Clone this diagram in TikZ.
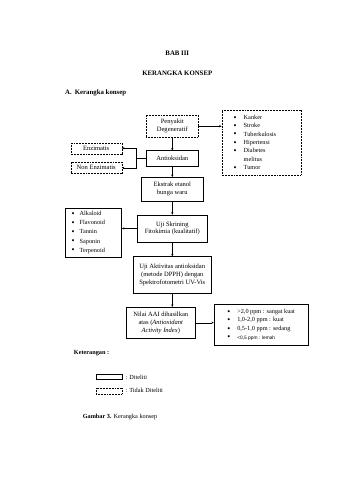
\documentclass[tikz,border=0pt]{standalone}
\usepackage{fontspec}
\setmainfont{Liberation Serif}
\setsansfont{Liberation Sans}
\usepackage{tikz}
\usetikzlibrary{arrows.meta,positioning,calc}

\newcommand{\titik}{\raisebox{-0.25ex}{\fontsize{15}{15}\selectfont\textbullet}}
\newcommand{\butir}[1]{\makebox[0.62cm][l]{\titik}#1}

\begin{document}
\begin{tikzpicture}[
  node distance=0.8cm,
  block/.style={rectangle, draw, line width=0.9pt, align=center, inner sep=2pt, font=\fontsize{11.5}{14}\selectfont},
  tblock/.style={block, line width=0.6pt, dash pattern=on 1.6pt off 1.1pt},
  arrow/.style={-{Stealth[length=1.5mm, width=1.3mm]}, line width=0.45pt},
  judul/.style={font=\fontsize{12}{14}\selectfont\bfseries},
  teks/.style={font=\fontsize{11}{13}\selectfont, inner sep=1pt},
]
  \useasboundingbox (0,0) rectangle (21,-29.7);

  % judul
  \node[judul] (bab) at (10.97,-3.29) {BAB III};
  \node[judul] (kk) at (10.97,-4.53) {KERANGKA KONSEP};
  \node[judul, anchor=west] (subbab) at (3.91,-5.77) {A.\hspace{0.45em}Kerangka konsep};

  % alur utama
  \node[tblock, minimum width=3.22cm, minimum height=1.36cm] (pen) at (10.66,-7.81) {Penyakit\\Degeneratif};
  \node[block, minimum width=3.22cm, minimum height=0.93cm, below=0.81cm of pen] (antiok) {Antioksidan};
  \node[block, minimum width=3.84cm, minimum height=1.49cm, below=0.68cm of antiok] (ekstrak) {Ekstrak etanol\\bunga waru};
  \node[block, minimum width=4.34cm, minimum height=1.67cm, below=0.81cm of ekstrak] (skrining) {Uji Skrining\\Fitokimia (kualitatif)};
  \node[block, minimum width=4.77cm, minimum height=2.29cm, below=0.87cm of skrining] (aktivitas) {Uji Aktivitas antioksidan\\(metode DPPH) dengan\\Spektrofotometri UV-Vis};
  \node[block, minimum width=4.28cm, minimum height=1.92cm, below=0.81cm of aktivitas, xshift=-0.71cm] (aai) {Nilai AAI dihasilkan\\atas (\textit{Antioxidant}\\\textit{Activity Index})};

  % cabang samping
  \node[tblock, align=left, anchor=north west, minimum width=4.9cm, minimum height=4.03cm, text width=3.42cm, inner xsep=0.74cm, font=\fontsize{11}{14.7}\selectfont] (penyakit) at ($(pen.north east)+(1.43,0.31)$)
    {\butir{Kanker}\\\butir{Stroke}\\\butir{Tuberkulosis}\\\butir{Hipertensi}\\\butir{Diabetes}\\\hspace*{0.62cm}melitus\\\butir{Tumor}};
  \node[tblock, minimum width=3.16cm, minimum height=0.68cm, left=1.49cm of antiok, yshift=0.62cm] (enz) {Enzimatis};
  \node[tblock, minimum width=3.16cm, minimum height=0.72cm, left=1.49cm of antiok, yshift=-0.59cm] (nenz) {Non Enzimatis};
  \node[block, align=left, minimum width=3.47cm, minimum height=3.04cm, text width=2.73cm, inner xsep=0.37cm, font=\fontsize{11}{16}\selectfont, left=0.93cm of skrining, yshift=-0.25cm] (senyawa)
    {\makebox[0.5cm][l]{\titik}Alkaloid\\\makebox[0.5cm][l]{\titik}Flavonoid\\\makebox[0.5cm][l]{\titik}Tannin\\\makebox[0.5cm][l]{\titik}Saponin\\\makebox[0.5cm][l]{\titik}Terpenoid};
  \node[block, align=left, minimum width=5.83cm, minimum height=2.54cm, font=\fontsize{11}{15}\selectfont, right=1.12cm of aai, yshift=-0.12cm] (ppm)
    {\butir{>2,0 ppm : sangat kuat}\\\butir{1,0-2,0 ppm : kuat}\\\butir{0,5-1,0 ppm : sedang}\\\butir{{\sffamily\fontsize{8.5}{15}\selectfont <0,5 ppm : lemah}}};

  % panah
  \draw[arrow] (pen) -- (antiok);
  \draw[arrow] (antiok) -- (ekstrak);
  \draw[arrow] (ekstrak) -- (skrining);
  \draw[arrow] (skrining) -- (aktivitas);
  \draw[arrow] (aktivitas.south) -- (aktivitas.south |- aai.north);
  \draw[arrow] (pen.east) -- (pen.east -| penyakit.west);
  \coordinate (cab) at ($(antiok.west)+(-0.62,0)$);
  \draw[line width=0.45pt] (antiok.west) -- (cab);
  \draw[arrow] (cab) |- (enz.east);
  \draw[arrow] (cab) |- (nenz.east);
  \draw[arrow] (skrining.west) -- (skrining.west -| senyawa.east);
  \draw[arrow] (aai.east) -- (aai.east -| ppm.west);

  % keterangan
  \node[teks, anchor=west, font=\fontsize{11}{13}\selectfont\bfseries] (ket) at (4.53,-21.82) {Keterangan :};
  \node[draw, line width=0.9pt, minimum width=1.61cm, minimum height=0.31cm, inner sep=0pt] (leg1) at (6.76,-23.34) {};
  \node[draw, line width=0.6pt, dash pattern=on 1.6pt off 1.1pt, minimum width=1.61cm, minimum height=0.37cm, inner sep=0pt] (leg2) at (6.76,-24.18) {};
  \node[teks, right=0.15cm of leg1] (lbl1) {: Diteliti};
  \node[teks, right=0.15cm of leg2] (lbl2) {: Tidak Diteliti};
  \node[teks, anchor=west] (gambar) at (5.08,-25.79) {\textbf{Gambar 3.} Kerangka konsep};
\end{tikzpicture}
\end{document}
